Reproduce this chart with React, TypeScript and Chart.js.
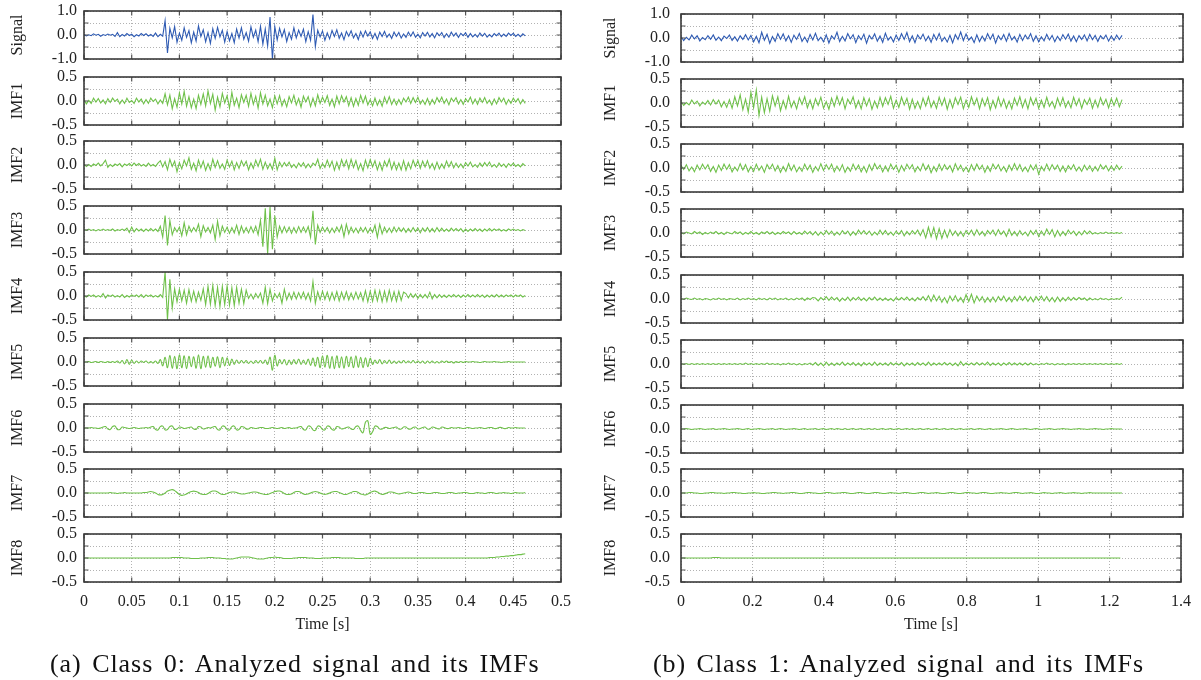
import React, { useEffect, useRef } from 'react';
import { Chart, registerables } from 'chart.js';
Chart.register(...registerables);

// ---------------- data (values in hundredths) ----------------
const LEFT_DT = 0.0025; // s between samples, class 0
const RIGHT_DT = 0.0075; // s between samples, class 1
const PANEL_LABELS = ['Signal', 'IMF1', 'IMF2', 'IMF3', 'IMF4', 'IMF5', 'IMF6', 'IMF7', 'IMF8'];
const LEFT_X_TICKS = { max: 0.5, step: 0.05 };
const RIGHT_X_TICKS = { max: 1.4, step: 0.2 };
const CAPTIONS = ['(a) Class 0: Analyzed signal and its IMFs', '(b) Class 1: Analyzed signal and its IMFs'];

const leftSignal = [2,-4,1,-3,5,-1,3,-5,2,-2,4,-1,3,-6,10,-7,2,-4,6,-2,3,-7,1,-4,6,-2,5,-4,2,-6,8,-7,3,-5,
60,-75,
28,-12,35,-30,8,-22,30,-10,18,-33,12,-25,38,-6,22,-28,10,-35,26,-14,32,-8,20,-30,14,-24,6,-32,25,-12,30,-18,10,-26,34,-9,20,-28,36,-38,
25,-45,75,-100,35,
-20,28,-8,22,-27,10,-18,30,-12,20,-6,24,-28,14,-22,
85,-48,
20,-8,17,-22,9,-16,19,-6,22,-14,8,-20,15,-5,18,-12,6,-19,14,-9,17,-4,13,-15,7,-18,12,-6,15,-10,4,-14,12,
-6,11,-13,4,-10,12,-5,13,-9,3,-12,10,-4,11,-8,6,-12,9,-3,10,-11,5,-9,12,-4,8,-10,7,-3,9,-10,6,-8,3,-9,8,-5,7,-9,2,-8,6,-3,8,-7,4,-6,8,-2,7,-6,3,-7,5,-4];

const leftImf1 = [3,-6,1,-5,6,-2,5,-4,2,-6,5,-3,6,-1,4,-6,2,-5,6,-3,1,-5,6,-2,4,-6,3,-5,6,-1,4,-6,2,-5,
15,-8,12,-16,5,-13,17,-6,20,-11,9,-14,4,-16,12,-7,15,-10,21,-5,14,-19,8,-12,16,-4,11,-15,18,-9,6,-14,13,-3,12,-11,16,-7,10,-15,17,-6,12,-10,4,-14,11,
-6,11,-10,3,-12,9,-4,12,-8,5,-13,10,-2,9,-11,6,-10,13,-5,8,-3,11,-9,4,-12,10,-6,11,-2,9,-10,7,-11,5,-9,12,-4,10,-8,3,-10,6,-9,2,-11,8,-5,9,-7,4,
-8,3,-7,6,-2,8,-5,7,-3,8,-6,2,-7,5,-8,3,-6,7,-2,8,-5,4,-8,6,-1,7,-6,3,-7,5,-2,8,-6,4,-7,6,-3,7,-5,2,-8,4,-6,7,-2,6,-7,3,-5,6,-2,5,-6,3,-5];

const leftImf2 = [2,-3,1,-3,2,-1,4,-2,3,10,-5,1,-3,2,-1,3,-4,2,-1,3,-2,4,-1,3,-2,1,-3,4,-2,1,-3,4,
9,-4,7,-10,12,-3,8,-14,5,-8,10,-2,15,-9,4,-12,10,-6,8,-11,3,-10,12,-5,9,-7,2,-9,10,-4,8,-10,5,-7,9,-2,8,-10,4,-7,10,-3,12,-9,6,-8,3,-9,14,-10,6,
-4,5,-2,6,-5,1,-6,4,-3,5,-6,2,-5,4,-1,12,-7,3,-5,
10,-4,8,-11,6,-9,11,-3,10,-8,12,-5,9,-10,3,-12,10,-6,11,-4,9,-10,5,-11,8,-3,12,-9,6,-10,4,-10,9,-11,5,-8,10,-3,9,-7,8,-4,9,-7,3,-9,6,-8,2,-7,8,-4,7,-6,
4,-5,2,-6,5,-2,6,-4,1,-5,4,-3,5,-2,6,-4,1,-5,4,-3,2,-5,3,-2,4,-3,1,-4,3,-2];

const leftImf3 = [1,-1,2,-1,1,-2,1,-1,2,-1,1,-1,2,-2,1,-1,2,-1,
4,-5,6,-4,3,
-2,2,-3,2,-2,3,-2,2,-3,
8,-15,30,-32,20,-10,
5,-4,6,
-12,15,-10,8,
-4,5,-3,
12,-14,9,
-4,5,-6,
10,-20,18,-12,8,
-5,6,-7,5,-6,
10,-9,8,-6,
5,-6,7,-5,8,-10,
20,-35,45,-50,48,-40,30,-15,
8,-6,7,-5,6,-7,5,-6,7,-5,6,-5,7,
-15,40,-30,10,
-5,6,-4,5,-6,4,-5,6,-4,
10,-14,12,-8,6,
-5,4,-6,5,-4,5,-6,4,-5,
10,-15,12,-8,6,
-5,4,-5,6,-4,5,-3,4,-5,3,-4,5,-3,4,-6,4,-3,5,-4,3,-4,5,-3,4,
-3,2,-3,4,-2,3,-2,3,-4,2,-3,2,-2,3,-2,2,-3,2,-2,3,-2,2,-1,2,-2,1,-2,2,-1,2,-1,1,-2,1,-1];

const leftImf4 = [1,-2,2,-1,2,-2,1,-2,5,-4,2,-1,2,-2,1,-2,3,-3,1,-2,2,-1,2,-2,3,-3,2,-1,2,-2,1,-2,3,-3,
50,-50,35,-25,
15,-12,14,-10,12,-15,13,-11,10,-12,8,-9,
15,-18,20,-17,22,-20,18,-22,20,-18,21,-19,17,-20,18,-15,14,-16,12,
-5,4,-6,5,-4,6,
-15,18,-16,14,-10,
5,-4,6,
-15,14,-8,
6,-7,8,-6,7,-5,8,-7,6,
-10,30,-15,
9,-8,10,-7,8,-9,7,-8,9,-10,8,-7,9,-8,6,-7,8,-6,7,
-10,11,-12,10,-11,12,-10,11,-12,10,-11,12,-10,9,-11,10,-9,8,
5,-4,5,-3,4,-5,3,-4,3,-4,8,-6,3,-4,3,-3,
2,-3,2,-2,3,-2,2,-3,2,-2,3,-2,2,-2,3,-2,2,-3,2,-2,2,-2,3,-2,2,-2,2,-1,2,-2,2,-1,2,-2,1];

const leftImf5 = [0,0,1,-1,0,1,-1,1,0,-1,1,-1,1,-1,2,-2,
3,-4,5,-5,4,-3,2,
-2,2,-1,2,-2,1,-2,2,-3,
5,-8,10,-12,14,-13,12,-14,15,-12,13,-14,12,-10,11,-13,15,-14,12,-11,13,-12,10,-9,11,-12,10,-8,9,-7,6,-5,4,
-3,3,-2,3,-3,2,-3,3,-2,3,-3,4,-5,
10,-17,14,-8,
5,-4,5,-6,4,-5,5,-4,6,-5,4,-5,6,-7,8,-9,
10,-12,13,-11,14,-13,12,-14,13,-12,11,-13,12,-10,11,-12,13,-11,10,-12,9,-10,8,
-5,4,-3,5,-4,3,-3,4,-3,
2,-3,2,-2,3,-2,2,-2,3,-2,2,-2,2,-3,2,-2,2,-2,1,-2,2,-1,2,-1,1,-2,1,-1,1,-1,
1,0,0,1,0,0,-1,0,1,0,0,0,1,0,0,-1,0,0,1,0,0,0,0,0,0,0];

const leftImf6 = [0,0,0,1,0,0,-1,0,
2,3,-2,-3,3,4,-3,-3,2,1,
0,-1,0,1,0,-1,0,0,1,0,
2,3,-3,-4,3,4,-4,-3,3,4,-3,-2,2,1,
-1,0,1,2,-2,-3,3,2,-2,-1,1,0,
2,3,-3,-4,4,3,-3,-4,3,4,-4,-3,3,2,-2,-2,1,0,
-1,0,1,1,-1,-1,0,1,0,-1,0,1,-1,0,1,-1,0,0,
2,3,-3,-4,4,3,-4,-5,4,3,-3,-4,4,3,-3,-4,3,2,-2,-1,
1,2,-2,-3,3,4,
-5,-10,12,15,-13,-8,
4,3,-2,-2,1,1,-1,0,
1,2,-2,-2,2,2,-2,-2,1,2,-2,-1,1,2,-2,-2,2,1,-1,-2,2,1,-1,-1,1,0,
0,1,0,-1,0,1,0,-1,0,0,1,0,-1,0,1,1,-1,-1,1,1,
-1,-1,1,0,0,1,0,0,0,0];

const leftImf7 = [0,0,0,0,0,0,0,0,0,0,0,1,0,0,-1,0,0,1,0,0,0,0,0,0,0,1,
1,2,3,2,0,-3,-4,-3,0,4,6,7,5,1,-3,-5,-4,-2,1,3,
4,3,1,-2,-3,-3,-1,2,4,4,2,-1,-3,-3,-1,1,2,2,1,-1,-2,-2,-1,0,1,2,2,1,-1,-2,-3,-3,-1,1,3,
4,4,2,-1,-3,-3,-2,1,3,3,1,-2,-3,-2,0,2,3,2,0,-2,-3,-2,0,2,3,3,1,-1,-3,-3,-1,1,3,3,1,-2,-3,-4,-2,1,
3,4,2,-1,-3,-2,0,2,2,1,-1,-2,-1,0,1,2,1,-1,-1,0,
1,1,0,-1,-1,0,1,1,0,-1,-1,0,1,1,0,-1,0,0,1,1,0,-1,-1,0,1,0,0,-1,0,1,1,0,-1,0,0,1,0,0,-1,0,1,0,0,0,1];

const leftImf8 = [0,0,0,0,0,0,0,0,0,0,0,0,0,0,0,0,0,0,0,0,0,0,0,0,0,0,0,0,0,0,0,0,0,0,0,0,0,1,1,1,1,1,0,0,0,-1,-1,-1,-1,0,0,0,1,1,1,0,0,0,-1,-1,
-2,-2,-2,-1,0,1,2,2,2,2,1,0,-1,-2,-2,-2,-1,0,1,1,2,1,1,0,-1,-1,-1,-1,0,0,1,1,1,1,0,0,0,-1,-1,-1,0,
0,0,0,1,1,1,1,0,0,0,0,0,0,-1,-1,-1,-1,0,0,0,0,0,0,0,0,0,0,0,0,0,0,0,0,0,0,0,0,0,0,0,0,0,0,0,0,0,0,0,0,0,0,0,0,0,0,0,0,0,0,0,0,0,0,0,0,0,0,0,0,1,
1,1,2,2,3,3,4,4,5,5,6,7,7,8,9];

const rightSignal = [6,-11,3,-8,12,-4,9,-12,2,-7,10,-5,13,-9,4,-11,8,-2,12,-10,5,-13,9,-6,14,-8,11,
-16,7,-20,24,-9,15,-22,6,-14,18,-5,17,-12,9,
-18,12,-6,19,-14,4,-17,15,-8,20,-11,3,-16,13,-21,9,-5,24,-15,7,
-12,18,-3,14,-19,10,-7,16,-22,11,-4,17,-13,8,-18,20,-9,5,-16,12,
-10,18,-6,23,-15,9,-19,13,-4,16,-12,7,-18,15,-8,19,-14,3,-17,11,
-20,14,-6,25,-11,17,-9,4,-19,13,-15,8,-12,18,-5,16,-21,10,-7,14,
-13,19,-8,6,-17,15,-10,12,-4,18,-14,9,-16,5,-12,15,-8,11,-15,7,
-11,14,-5,16,-13,8,-15,10,-6,13,-12,15,-7,11,-14,9,-4,12,-13,8,
-10,12,-6,11];

const rightImf1 = [3,-5,1,-4,6,-2,4,-6,2,-3,5,-4,7,-2,6,-8,3,-9,7,-11,
13,-6,17,-14,8,-19,22,-10,27,-26,12,-20,9,-17,15,-6,13,-16,5,-12,14,
-9,4,-12,11,-3,13,-10,6,-12,9,-5,12,-11,3,-13,10,-7,14,-4,11,
-12,8,-2,13,-10,5,-12,11,-6,9,-13,4,-10,12,-7,11,-3,14,-11,6,
-9,12,-4,10,-13,8,-11,3,-12,10,-6,13,-9,4,-11,12,-5,10,-13,7,
-10,11,-3,12,-12,6,-9,13,-4,10,-12,9,-6,11,-14,5,-10,12,-7,8,
-11,4,-12,10,-5,13,-9,7,-12,11,-4,10,-11,6,-9,12,-7,3,-11,10,
-6,11,-9,4,-10,12,-5,9,-11,7,-3,10,-11,6,-9,11,-4,8,-10,9,
-5,10,-8,7];

const rightImf2 = [5,-3,7,-6,2,-8,6,-4,8,-2,7,-7,3,-9,6,-5,8,-3,7,-8,2,-6,9,-4,7,-8,3,-7,8,-5,
4,-9,7,-2,8,-6,5,-9,3,-7,9,-5,6,-8,2,-7,8,-4,6,-9,3,-6,9,-5,7,-3,8,-8,4,-6,
7,-9,2,-7,8,-4,6,-8,3,-9,7,-5,9,-2,6,-8,4,-7,8,-3,6,-9,5,-6,8,-2,7,-8,3,-6,
9,-4,6,-10,3,-7,8,-5,7,-3,5,-8,9,-4,6,-7,2,-8,7,-5,8,-3,6,-9,4,-7,8,-2,7,-6,
3,-8,6,-5,9,-4,7,-7,2,-8,6,-4,7,-13,3,-6,8,-5,7,-3,6,-7,4,-8,5,-3,7,-6,2,-7,
6,-4,5,-7,3,-6,7,-2,5,-6,4,-5,6,-3,4];

const rightImf3 = [1,-2,2,0,-2,3,-1,2,-3,1,-2,2,-1,3,-2,1,-3,2,0,-2,3,-1,2,-3,1,-2,3,-2,1,-3,2,-1,3,-2,2,-3,1,-2,3,-1,2,-3,3,-2,1,-3,4,-2,3,-4,
3,-5,2,-4,5,-3,4,-5,2,-4,5,-2,4,-5,3,-4,6,-2,5,-3,4,-5,2,-4,6,-3,5,-4,2,-5,4,-3,5,-6,3,-4,5,-2,6,-5,
7,-10,12,-8,11,-12,9,-11,6,-9,7,-5,
4,-6,3,-7,5,-3,6,-5,7,-4,3,-6,5,-2,6,-5,7,-3,4,-7,8,-5,3,-6,5,-4,2,-6,5,-3,6,-7,4,-5,8,-3,7,-8,5,-6,3,-5,6,-2,4,-5,3,-4,5,-2,4,
-2,1,-2,1,-1,2,-1,1,-1,1,-1,1];

const rightImf4 = [1,-1,2,0,-1,2,-1,1,-2,1,0,-2,1,-1,2,-1,1,-2,1,0,-1,2,-2,1,-1,2,-1,1,-2,2,-1,1,-2,2,-1,2,-2,1,-1,2,-2,1,-2,2,-1,2,-3,2,-1,3,
2,-4,3,-2,5,-3,4,-2,3,-5,2,-3,4,-4,3,-2,4,-3,2,-4,3,-2,4,-3,2,
-3,2,-3,1,-4,3,-2,3,-2,4,-3,2,-4,3,-2,
5,-3,7,-5,8,-4,6,-7,3,-8,6,-4,7,-5,3,-7,9,-5,10,-8,6,-4,5,-7,3,-6,
4,-6,5,-3,6,-5,3,-6,5,-4,6,-3,5,-5,4,-6,5,-3,6,-4,5,-5,3,-6,4,-5,3,-4,4,-3,
3,-2,3,-1,2,-3,2,-2,1,-2,2,-1,1,-2,1,-1,1,-1,
4];

const rightImf5 = [1,-1,1,-1,1,-1,1,-1,1,-1,1,-1,1,-1,1,-1,1,-1,1,-1,1,-1,1,-1,2,-1,1,-1,1,-1,1,-1,2,-1,1,-1,1,-2,1,-1,2,-1,1,-2,1,-2,1,-1,2,-2,
3,-3,2,-4,4,-3,2,-3,2,-2,4,-3,2,-2,3,-3,2,-4,3,-2,2,-3,4,-3,2,-2,2,-3,3,-2,2,-2,3,-4,2,-2,2,-3,3,-2,
2,-3,4,-3,2,-2,2,-2,3,-2,2,-3,2,-4,5,-3,2,-2,2,-2,3,-2,2,-2,4,-3,2,-2,2,-3,2,-2,3,-2,2,-2,2,-2,2,-2,
2,-2,1,-2,1,-1,2,-1,1,-2,1,-1,1,-2,1,-1,1,-1,1,-1,1,-1,1,-1,1,-1,1,-1,1,-1,1,-1,1,-1,1];

const rightImf6 = [0,0,1,0,-1,0,0,1,0,-1,0,0,1,-1,0,0,1,0,-1,0,0,1,0,-1,0,1,-1,0,0,1,0,-1,0,0,1,-1,0,1,0,-1,0,0,1,0,-1,0,1,-1,0,0,
1,-1,0,1,-1,0,1,-1,1,0,-1,1,-1,0,1,-1,0,1,-1,0,1,-1,1,-1,0,1,-1,0,1,-1,0,1,-1,0,1,-1,1,-1,0,1,-1,0,1,-1,0,1,-1,0,1,-1,
0,1,-1,0,1,-1,0,0,1,-1,0,1,0,-1,0,1,-1,0,0,1,0,-1,0,1,0,-1,0,0,1,0,-1,0,1,0,-1,0,0,1,0,-1,0,0,1,0,0,-1,0,0,1,0,0,-1,0,0,1,0,0,-1,0,0,1,0,0,0,0];

const rightImf7 = [0,0,0,1,1,0,0,-1,-1,0,0,1,1,0,0,0,-1,0,0,1,1,0,0,-1,-1,0,0,1,0,0,-1,-1,0,0,1,1,0,0,-1,0,
0,1,1,0,-1,-1,0,1,1,0,0,-1,-1,0,1,1,0,-1,0,0,1,1,0,-1,-1,0,1,1,0,-1,-1,0,1,1,0,-1,-1,0,1,0,
0,-1,0,1,1,0,-1,-1,0,1,1,0,-1,0,0,1,0,-1,-1,0,1,1,0,-1,-1,0,1,1,0,0,-1,0,1,1,0,-1,-1,0,0,1,
0,0,-1,0,1,1,0,-1,0,0,1,0,-1,-1,0,1,0,0,-1,0,0,1,0,-1,0,0,1,0,0,-1,0,0,1,0,0,0,0,0,0,0,0,0,0,0,0];

const rightImf8 = [0,0,0,0,0,0,0,0,0,0,0,0,1,1,1,0,0,0,0,0,0,0,0,0,0,0,0,0,0,0,0,0,0,0,0,0,0,0,0,0,
0,0,0,0,0,0,0,0,0,0,0,0,0,0,0,0,0,0,0,0,0,0,0,0,0,0,0,0,0,0,0,0,0,0,0,0,0,0,0,0,
0,0,0,0,0,0,0,0,0,0,0,0,0,0,0,0,0,0,0,0,0,0,0,0,0,0,0,0,0,0,0,0,0,0,0,0,0,0,0,0,
0,0,0,0,0,0,0,0,0,0,0,0,0,0,0,0,0,0,0,0,0,0,0,0,0,0,0,0,0,0,0,0,0,0,0,0,0,0,0,0,0,0,0,0,0];

const leftSeries = [leftSignal, leftImf1, leftImf2, leftImf3, leftImf4, leftImf5, leftImf6, leftImf7, leftImf8];
const rightSeries = [rightSignal, rightImf1, rightImf2, rightImf3, rightImf4, rightImf5, rightImf6, rightImf7, rightImf8];

// ---------------- style / layout ----------------
const BLUE = '#2f5bb3';
const GREEN = '#6fc14a';
const FRAME = '#3a3a3a';
const GRID = 'rgba(0,0,0,0.3)';
const TEXT = '#222';
const FONT = "'Liberation Serif', 'Times New Roman', serif";
const LABEL_HALF = 10; // half of tick label line height (16px * 1.25 / 2)
const PANEL_H = 48;
const X_AXIS_H = 60;

type Col = {
  x0: number; plotLeft: number; plotRight: number; canvasW: number;
  xMax: number; xStep: number; tickPad: number; titlePad: number;
  tops: number[]; dt: number; series: number[][];
};

const LEFT_COL: Col = {
  x0: 0, plotLeft: 84, plotRight: 561, canvasW: 581,
  xMax: LEFT_X_TICKS.max, xStep: LEFT_X_TICKS.step, tickPad: 7, titlePad: 8,
  tops: [11, 77, 141, 206, 272, 338, 404, 469, 534], dt: LEFT_DT, series: leftSeries,
};
const RIGHT_COL: Col = {
  x0: 600, plotLeft: 681, plotRight: 1183, canvasW: 601,
  xMax: RIGHT_X_TICKS.max, xStep: RIGHT_X_TICKS.step, tickPad: 11, titlePad: 0.5,
  tops: [14, 79, 144, 209, 275, 340, 405, 469, 534], dt: RIGHT_DT, series: rightSeries,
};

const framePlugin = {
  id: 'imfFrame',
  afterDatasetsDraw(chart: any) {
    const { ctx, chartArea: a, scales } = chart;
    const tl = 4.5;
    ctx.save();
    ctx.strokeStyle = '#555';
    ctx.lineWidth = 1.2;
    ctx.beginPath();
    scales.x.ticks.forEach((t: any) => {
      const px = scales.x.getPixelForValue(t.value);
      ctx.moveTo(px, a.top); ctx.lineTo(px, a.top + tl);
      ctx.moveTo(px, a.bottom); ctx.lineTo(px, a.bottom - tl);
    });
    scales.y.ticks.forEach((t: any) => {
      const py = scales.y.getPixelForValue(t.value);
      ctx.moveTo(a.left, py); ctx.lineTo(a.left + tl, py);
      ctx.moveTo(a.right, py); ctx.lineTo(a.right - tl, py);
    });
    ctx.stroke();
    ctx.strokeStyle = FRAME;
    ctx.lineWidth = 1.6;
    ctx.strokeRect(a.left, a.top, a.right - a.left, a.bottom - a.top);
    ctx.restore();
  },
};

function fmtX(v: number) {
  return String(parseFloat(Number(v).toFixed(3)));
}

function Panel({ col, k }: { col: Col; k: number }) {
  const ref = useRef<HTMLCanvasElement>(null);
  const isBottom = k === 8;
  const isSignal = k === 0;
  // Chart.js keeps (label half height + tick padding) free above and below a vertical axis
  const off = LABEL_HALF + col.tickPad;
  const top = col.tops[k] - off;
  const height = off + PANEL_H + (isBottom ? X_AXIS_H : off);
  const width = col.canvasW;
  const padRight = col.canvasW - (col.plotRight - col.x0);
  const yAxisW = col.plotLeft - col.x0;

  useEffect(() => {
    const values = col.series[k];
    const dt = col.dt;
    const yMax = isSignal ? 1 : 0.5;
    const major = isSignal ? 1 : 0.5;
    const smooth = col === LEFT_COL && k >= 5;
    const font = { family: FONT, size: 16, lineHeight: 1.25 };
    const chart = new Chart(ref.current as HTMLCanvasElement, {
      type: 'line',
      data: {
        datasets: [{
          data: values.map((v, i) => ({ x: i * dt, y: v / 100 })),
          borderColor: isSignal ? BLUE : GREEN,
          borderWidth: 1.1,
          pointRadius: 0,
          tension: smooth ? 0.4 : 0,
          fill: false,
        }],
      },
      options: {
        animation: false,
        responsive: false,
        devicePixelRatio: 1,
        events: [],
        layout: { autoPadding: true, padding: { top: 0, bottom: 0, left: 0, right: padRight } },
        plugins: { legend: { display: false }, tooltip: { enabled: false } },
        scales: {
          x: {
            type: 'linear', min: 0, max: col.xMax,
            ticks: { stepSize: col.xStep, display: isBottom, autoSkip: false, maxRotation: 0, padding: 10, font, color: TEXT, callback: (v: any) => fmtX(v) },
            grid: { color: GRID, lineWidth: 1, drawTicks: false },
            border: { display: false, dash: [1, 2] },
            title: { display: isBottom, text: 'Time [s]', font, color: TEXT, padding: { top: 0, bottom: 7 } },
            afterFit: (s: any) => { s.height = isBottom ? X_AXIS_H : 0; },
          },
          y: {
            type: 'linear', min: -yMax, max: yMax,
            ticks: {
              stepSize: yMax / 2, autoSkip: false, padding: col.tickPad, font, color: TEXT,
              callback: (v: any) => {
                const r = v / major;
                if (Math.abs(r - Math.round(r)) > 1e-6) return '';
                return (Math.abs(v) < 1e-9 ? 0 : v).toFixed(1);
              },
            },
            grid: { color: GRID, lineWidth: 1, drawTicks: false },
            border: { display: false, dash: [1, 2] },
            title: { display: true, text: PANEL_LABELS[k], font, color: TEXT, padding: { top: col.titlePad, bottom: 0 } },
            afterFit: (s: any) => { s.width = yAxisW; },
          },
        },
      } as any,
      plugins: [framePlugin],
    });
    return () => chart.destroy();
  }, []);

  return (
    <canvas
      ref={ref}
      width={width}
      height={height}
      style={{ position: 'absolute', left: col.x0, top, width, height }}
    />
  );
}

const captionStyle: React.CSSProperties = {
  position: 'absolute', top: 651, fontFamily: FONT, fontSize: 26, lineHeight: '26px',
  letterSpacing: '0.95px', wordSpacing: '3px', whiteSpace: 'nowrap', color: '#111',
};

export default function App() {
  const idx = [0, 1, 2, 3, 4, 5, 6, 7, 8];
  return (
    <div style={{ position: 'absolute', left: 0, top: 0, width: 1201, height: 680, background: '#fff', overflow: 'hidden' }}>
      {idx.map((k) => <Panel key={'l' + k} col={LEFT_COL} k={k} />)}
      {idx.map((k) => <Panel key={'r' + k} col={RIGHT_COL} k={k} />)}
      <div style={{ ...captionStyle, left: 50 }}>{CAPTIONS[0]}</div>
      <div style={{ ...captionStyle, left: 653 }}>{CAPTIONS[1]}</div>
    </div>
  );
}
